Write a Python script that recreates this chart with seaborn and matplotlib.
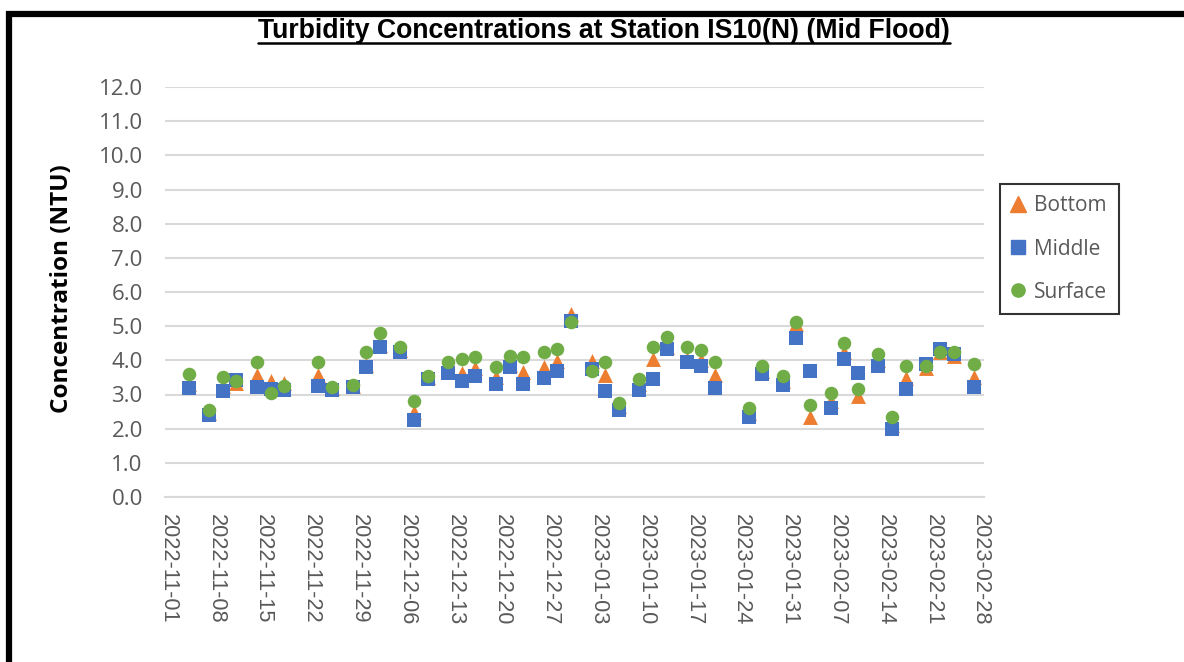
import matplotlib
matplotlib.use("Agg")
import matplotlib.pyplot as plt
from matplotlib.lines import Line2D
import seaborn as sns
import pandas as pd

# Sampling dates (mid-flood surveys)
dates = [
    "2022-11-04", "2022-11-07", "2022-11-09", "2022-11-11", "2022-11-14", "2022-11-16",
    "2022-11-18", "2022-11-23", "2022-11-25", "2022-11-28", "2022-11-30", "2022-12-02",
    "2022-12-05", "2022-12-07", "2022-12-09", "2022-12-12", "2022-12-14", "2022-12-16",
    "2022-12-19", "2022-12-21", "2022-12-23", "2022-12-26", "2022-12-28", "2022-12-30",
    "2023-01-02", "2023-01-04", "2023-01-06", "2023-01-09", "2023-01-11", "2023-01-13",
    "2023-01-16", "2023-01-18", "2023-01-20", "2023-01-25", "2023-01-27", "2023-01-30",
    "2023-02-01", "2023-02-03", "2023-02-06", "2023-02-08", "2023-02-10", "2023-02-13",
    "2023-02-15", "2023-02-17", "2023-02-20", "2023-02-22", "2023-02-24", "2023-02-27",
]

bottom = [
    3.30, 2.45, 3.25, 3.33, 3.57, 3.40, 3.34, 3.57, 3.20, 3.25, 3.85, 4.45,
    4.30, 2.50, 3.50, 3.70, 3.63, 3.78, 3.50, 3.85, 3.66, 3.81, 3.97, 5.36,
    3.97, 3.57, 2.65, 3.30, 4.04, 4.40, 4.05, 4.00, 3.57, 2.45, 3.70, 3.40,
    5.05, 2.35, 2.80, 4.25, 2.95, 4.00, 2.10, 3.48, 3.78, 4.25, 4.12, 3.50,
]
middle = [
    3.20, 2.40, 3.10, 3.42, 3.23, 3.16, 3.13, 3.25, 3.13, 3.23, 3.80, 4.40,
    4.23, 2.25, 3.44, 3.64, 3.39, 3.54, 3.30, 3.80, 3.30, 3.49, 3.70, 5.15,
    3.75, 3.10, 2.55, 3.13, 3.44, 4.33, 3.94, 3.84, 3.20, 2.35, 3.59, 3.28,
    4.64, 3.70, 2.60, 4.04, 3.64, 3.83, 1.99, 3.15, 3.88, 4.33, 4.18, 3.23,
]
surface = [
    3.60, 2.55, 3.50, 3.40, 3.94, 3.05, 3.25, 3.94, 3.23, 3.28, 4.23, 4.79,
    4.40, 2.81, 3.54, 3.94, 4.04, 4.09, 3.80, 4.14, 4.09, 4.23, 4.33, 5.13,
    3.70, 3.94, 2.74, 3.44, 4.40, 4.69, 4.40, 4.30, 3.94, 2.60, 3.83, 3.54,
    5.13, 2.69, 3.03, 4.50, 3.15, 4.20, 2.35, 3.84, 3.84, 4.23, 4.23, 3.89,
]

series_names = ["Bottom", "Middle", "Surface"]
series_colors = ["#ED7D31", "#4472C4", "#70AD47"]
series_markers = ["^", "s", "o"]
series_sizes = [115, 100, 95]

title = "Turbidity Concentrations at Station IS10(N) (Mid Flood)"
y_label = "Concentration (NTU)"

sns.set_theme(style="white")
plt.rcParams["font.family"] = ["Open Sans", "DejaVu Sans"]

df = pd.DataFrame({
    "date": pd.to_datetime(dates),
    "Bottom": bottom,
    "Middle": middle,
    "Surface": surface,
})

fig = plt.figure(figsize=(11.84, 6.62), dpi=100)
ax = fig.add_axes([165 / 1184, 1 - 497 / 662, 819 / 1184, 410 / 662])

for name, col, mk, sz in zip(series_names, series_colors, series_markers, series_sizes):
    sns.scatterplot(data=df, x="date", y=name, ax=ax, color=col, marker=mk,
                    s=sz, linewidth=0, label=name, legend=False, zorder=3)

start = pd.Timestamp("2022-11-01")
end = pd.Timestamp("2023-02-28")
ax.set_xlim(start - pd.Timedelta(hours=11), end + pd.Timedelta(hours=11))
ax.set_ylim(0, 12)

ticks = pd.date_range(start, end, freq="7D")
ax.set_xticks(ticks)
ax.set_xticklabels([t.strftime("%Y-%m-%d") for t in ticks], rotation=-90,
                   fontfamily="Liberation Sans", fontsize=15.7, color="#595959")
ax.set_yticks([i for i in range(13)])
ax.set_yticklabels([f"{i:.1f}" for i in range(13)], fontsize=16, color="#595959")
ax.tick_params(axis="x", length=0, pad=12)
ax.tick_params(axis="y", length=0, pad=16)

ax.grid(axis="y", color="#D9D9D9", linewidth=1.5)
ax.grid(axis="x", visible=False)
for side in ["top", "right", "left"]:
    ax.spines[side].set_visible(False)
ax.spines["bottom"].set_color("#D9D9D9")
ax.spines["bottom"].set_linewidth(1.5)
ax.set_xlabel("")
ax.set_ylabel("")

fig.text(62 / 1184, 1 - 289 / 662, y_label, rotation=90, ha="center", va="center",
         fontsize=17.5, fontweight="bold", color="black")

ttl = fig.text(604 / 1184, 1 - 31 / 662, title, ha="center", va="center",
               fontsize=19.2, fontweight="bold", fontfamily="Liberation Sans", color="black")

handles = [Line2D([], [], linestyle="none", marker=m, color=c, markersize=ms)
           for m, c, ms in zip(series_markers, series_colors, [11, 10, 9.5])]
leg = fig.legend(handles, series_names, loc="upper left",
                 bbox_to_anchor=(1000 / 1184, 1 - 184 / 662), borderaxespad=0,
                 frameon=True, fancybox=False, edgecolor="black", fontsize=15,
                 handlelength=0.6, handletextpad=0.5, labelspacing=1.06,
                 borderpad=0.55, labelcolor="#595959")
leg.get_frame().set_linewidth(1.5)

# Chart frame: heavy rule along the top and left edges
fig.add_artist(Line2D([6 / 1184, 1], [1 - 14 / 662, 1 - 14 / 662], color="black",
                      linewidth=4.5, transform=fig.transFigure, solid_capstyle="butt"))
fig.add_artist(Line2D([9 / 1184, 9 / 1184], [0, 1 - 11 / 662], color="black",
                      linewidth=4.5, transform=fig.transFigure, solid_capstyle="butt"))

# Underline the title
fig.canvas.draw()
bb = ttl.get_window_extent().transformed(fig.transFigure.inverted())
fig.add_artist(Line2D([bb.x0, bb.x1], [bb.y0 + 0.002, bb.y0 + 0.002], color="black",
                      linewidth=1.8, transform=fig.transFigure))

fig.savefig("out.png", dpi=100)
